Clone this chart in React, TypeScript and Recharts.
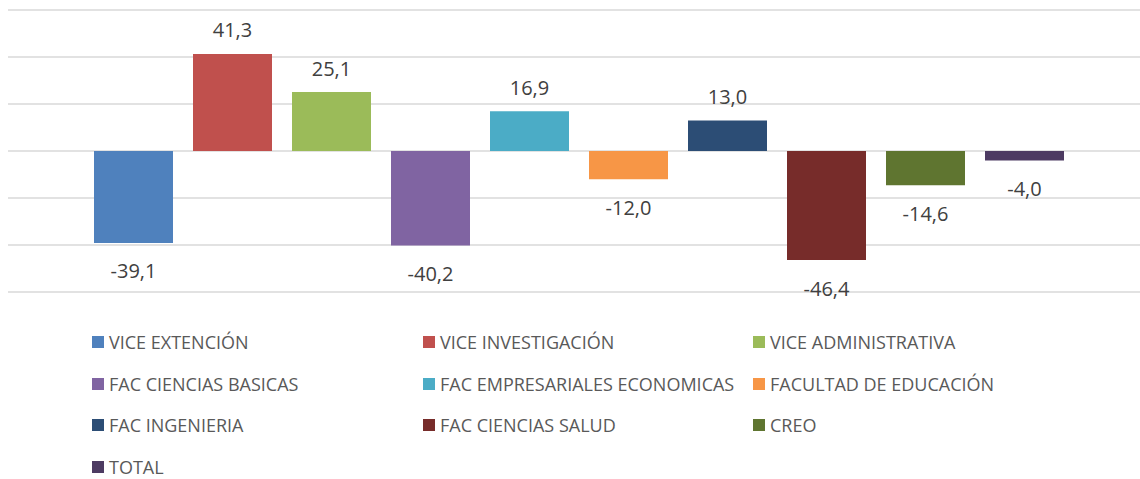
import { BarChart, Bar, XAxis, YAxis, CartesianGrid, LabelList } from 'recharts'

const SERIES = [
  'VICE EXTENCIÓN',
  'VICE INVESTIGACIÓN',
  'VICE ADMINISTRATIVA',
  'FAC CIENCIAS BASICAS',
  'FAC EMPRESARIALES ECONOMICAS',
  'FACULTAD DE EDUCACIÓN',
  'FAC INGENIERIA',
  'FAC CIENCIAS SALUD',
  'CREO',
  'TOTAL',
]
const VALUES = [-39.1, 41.3, 25.1, -40.2, 16.9, -12.0, 13.0, -46.4, -14.6, -4.0]
const COLORS = ['#4F81BD', '#C0504D', '#9BBB59', '#8064A2', '#4BACC6', '#F79646', '#2C4D75', '#772C2A', '#5F7530', '#4D3B62']
const Y_TICKS = [-60, -40, -20, 0, 20, 40, 60]

const row: Record<string, number | string> = { name: '' }
SERIES.forEach((_, i) => { row['s' + i] = VALUES[i] })
const data = [row]

const FONT = '"Open Sans", sans-serif'

function renderLabel(props: any) {
  const { x, y, width, height, value } = props
  const top = Math.min(y, y + height)
  const bottom = Math.max(y, y + height)
  const cy = value >= 0 ? top - 24 : bottom + 28
  return (
    <text x={x + width / 2} y={cy} textAnchor="middle" dominantBaseline="central" fontSize={20} fill="#404040" fontFamily={FONT}>
      {Number(value).toFixed(1).replace('.', ',')}
    </text>
  )
}

export default function App() {
  const cols = [92, 423, 753]
  return (
    <div style={{ position: 'relative', width: 1140, height: 479, overflow: 'hidden', background: '#fff' }}>
      <style>{'body{margin:0}'}</style>
      <div style={{ position: 'absolute', left: 0, top: 0 }}>
        <BarChart width={1150} height={320} data={data} margin={{ top: 10, right: 0, left: 8, bottom: 28 }} barSize={79} barGap={20}>
          <CartesianGrid vertical={false} stroke="#d9d9d9" strokeWidth={1.5} />
          <XAxis dataKey="name" hide />
          <YAxis hide domain={[-60, 60]} ticks={Y_TICKS} />
          {SERIES.map((s, i) => (
            <Bar key={s} dataKey={'s' + i} name={s} fill={COLORS[i]} isAnimationActive={false}>
              <LabelList dataKey={'s' + i} content={renderLabel} />
            </Bar>
          ))}
        </BarChart>
      </div>
      {SERIES.map((s, i) => (
        <div key={s} style={{ position: 'absolute', left: cols[i % 3], top: 342 + Math.floor(i / 3) * 41.7 - 12, height: 24, display: 'flex', alignItems: 'center', fontFamily: FONT, fontSize: 18, color: '#595959', whiteSpace: 'nowrap' }}>
          <span style={{ display: 'inline-block', width: 12, height: 12, background: COLORS[i], marginRight: 5 }} />
          {s}
        </div>
      ))}
    </div>
  )
}
